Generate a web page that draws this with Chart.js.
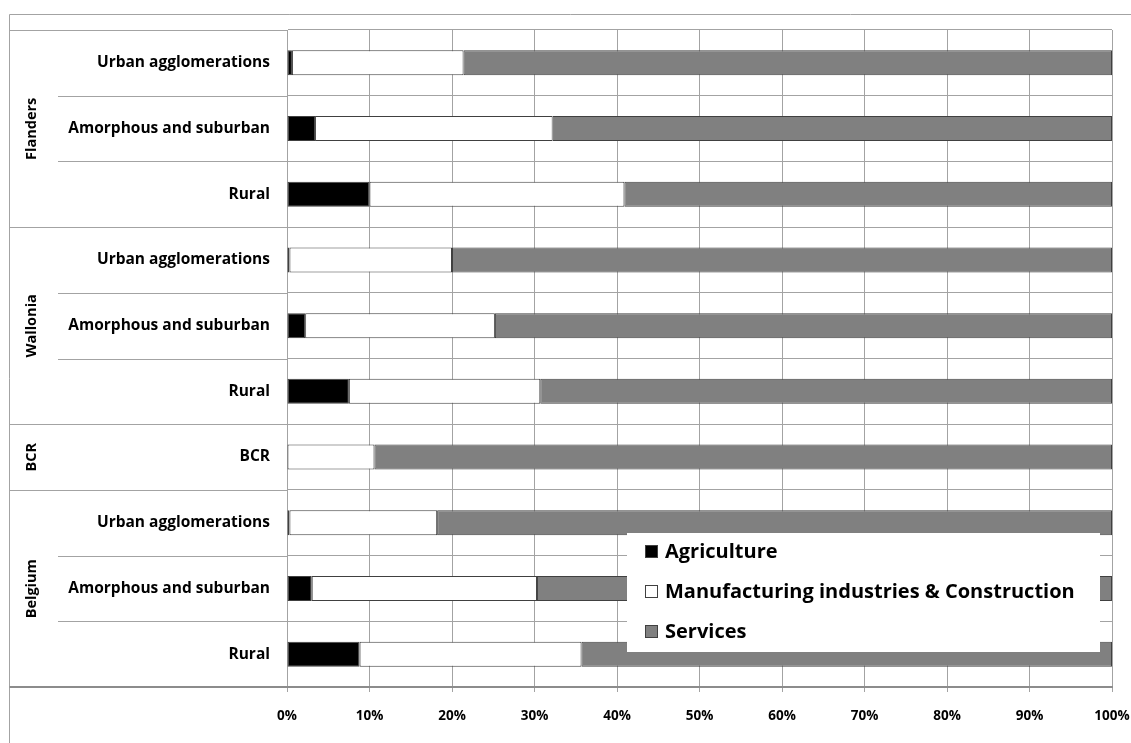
<!DOCTYPE html>
<html>
<head>
<meta charset="utf-8">
<script src="https://cdn.jsdelivr.net/npm/chart.js@4"></script>
<style>
  body { margin: 0; background: #fff; }
  #wrap { width: 1131px; height: 743px; position: relative; }
</style>
</head>
<body>
<div id="wrap"><canvas id="chart"></canvas></div>
<script>
// regions and the area types inside each of them (top to bottom)
const regions = ['Flanders', 'Wallonia', 'BCR', 'Belgium'];
const regionSizes = [3, 3, 1, 3];
const areaTypes = [
    'Urban agglomerations', 'Amorphous and suburban', 'Rural',
    'Urban agglomerations', 'Amorphous and suburban', 'Rural',
    'BCR',
    'Urban agglomerations', 'Amorphous and suburban', 'Rural'
];

// share of employment (%)
const agriculture   = [0.6, 3.4, 10.0, 0.3, 2.2, 7.5, 0.0, 0.3, 3.0, 8.8];
const manufacturing = [20.8, 28.8, 30.9, 19.7, 23.0, 23.2, 10.6, 17.9, 27.3, 26.9];
const services      = [78.6, 67.8, 59.1, 80.0, 74.8, 69.3, 89.4, 81.8, 69.7, 64.3];

const xTicks = [0, 10, 20, 30, 40, 50, 60, 70, 80, 90, 100];

const FONT = '"Open Sans", Lato, sans-serif';
const GRID = '#a3a3a3';
const FRAME_LEFT = 9.5;
const FRAME_TOP = 14.5;

function hline(ctx, x1, x2, y) {
    ctx.beginPath();
    ctx.moveTo(x1, y);
    ctx.lineTo(x2, y);
    ctx.stroke();
}

// region labels + separators on the left, outer frame
const groupAxis = {
    id: 'groupAxis',
    afterDraw(chart) {
        const ctx = chart.ctx;
        const y = chart.scales.y;
        const area = chart.chartArea;
        const step = y.getPixelForValue(1) - y.getPixelForValue(0);
        ctx.save();
        ctx.strokeStyle = GRID;
        ctx.lineWidth = 1;
        // frame
        ctx.beginPath();
        ctx.moveTo(FRAME_LEFT, chart.height);
        ctx.lineTo(FRAME_LEFT, FRAME_TOP);
        ctx.lineTo(chart.width, FRAME_TOP);
        ctx.stroke();

        let start = 0;
        regions.forEach((name, g) => {
            const size = regionSizes[g];
            const top = Math.round(y.getPixelForValue(start) - step / 2) + 0.5;
            const bottom = y.getPixelForValue(start + size - 1) + step / 2;
            hline(ctx, FRAME_LEFT, area.left, top);
            for (let k = 1; k < size; k++) {
                const yy = Math.round(y.getPixelForValue(start + k) - step / 2) + 0.5;
                hline(ctx, 58, area.left, yy);
            }
            ctx.save();
            ctx.translate(39, (top + bottom) / 2);
            ctx.rotate(-Math.PI / 2);
            ctx.fillStyle = '#000';
            ctx.font = 'bold 14.5px ' + FONT;
            ctx.textAlign = 'center';
            ctx.textBaseline = 'bottom';
            ctx.fillText(name, 0, 0);
            ctx.restore();
            start += size;
        });
        // bottom axis line, running out to the frame
        ctx.strokeStyle = '#8c8c8c';
        ctx.lineWidth = 2;
        hline(ctx, FRAME_LEFT, area.right, Math.round(area.bottom));
        ctx.restore();
    }
};

// legend box inside the plot
const boxLegend = {
    id: 'boxLegend',
    afterDraw(chart) {
        const ctx = chart.ctx;
        const bx = 627, by = 533, bw = 473, bh = 119;
        ctx.save();
        ctx.fillStyle = '#fff';
        ctx.fillRect(bx, by, bw, bh);
        ctx.font = 'bold 20px ' + FONT;
        ctx.textBaseline = 'middle';
        chart.data.datasets.forEach((ds, i) => {
            const cy = by + 19 + i * 40;
            ctx.fillStyle = ds.backgroundColor;
            ctx.strokeStyle = '#404040';
            ctx.lineWidth = 1;
            ctx.fillRect(645.5, cy - 6.5, 12, 12);
            ctx.strokeRect(645.5, cy - 6.5, 12, 12);
            ctx.fillStyle = '#000';
            ctx.fillText(ds.label, 665, cy);
        });
        ctx.restore();
    }
};

const data = {
    labels: areaTypes,
    datasets: [
        { label: 'Agriculture', data: agriculture, backgroundColor: '#000000' },
        { label: 'Manufacturing industries & Construction', data: manufacturing, backgroundColor: '#ffffff' },
        { label: 'Services', data: services, backgroundColor: '#808080' }
    ]
};
data.datasets.forEach(ds => {
    ds.borderColor = '#404040';
    ds.borderWidth = 1;
    ds.borderSkipped = false;
    ds.categoryPercentage = 1;
    ds.barPercentage = 0.38;
});

const config = {
    type: 'bar',
    data: data,
    options: {
        indexAxis: 'y',
        responsive: true,
        maintainAspectRatio: false,
        animation: false,
        layout: { padding: { top: 30, right: 19, left: 0, bottom: 0 } },
        plugins: {
            legend: { display: false },
            tooltip: { enabled: false }
        },
        scales: {
            x: {
                stacked: true,
                min: 0,
                max: 100,
                afterBuildTicks: scale => { scale.ticks = xTicks.map(v => ({ value: v })); },
                afterFit: scale => {
                    scale.height = 56;
                    scale.paddingLeft = 0;
                    scale.paddingRight = 0;
                },
                grid: { color: GRID, tickLength: 5, tickColor: GRID },
                border: { color: '#8c8c8c', width: 2 },
                ticks: {
                    padding: 16,
                    color: '#000',
                    font: { family: FONT, size: 13.5, weight: 'bold' },
                    callback: v => v + '%'
                }
            },
            y: {
                stacked: true,
                afterFit: scale => {
                    scale.width = 287;
                    scale.paddingTop = 0;
                    scale.paddingBottom = 0;
                },
                grid: { color: GRID, offset: true, drawTicks: false },
                border: { color: GRID },
                ticks: {
                    padding: 17,
                    color: '#000',
                    font: { family: FONT, size: 15.5, weight: 'bold' }
                }
            }
        }
    },
    plugins: [groupAxis, boxLegend]
};

var myChart = new Chart(document.getElementById('chart'), config);
</script>
</body>
</html>
